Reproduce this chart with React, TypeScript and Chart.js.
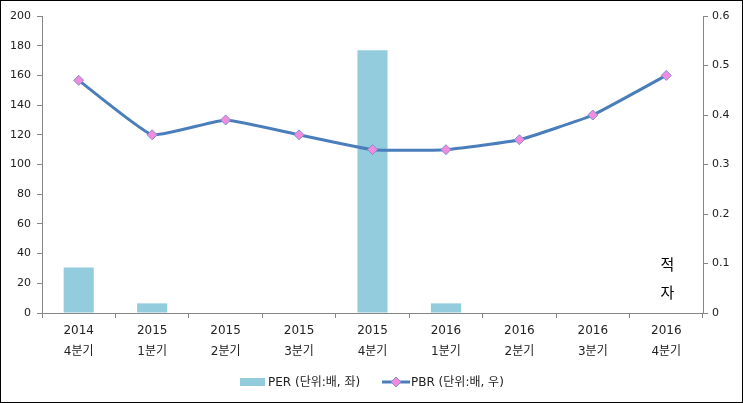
import React, { useEffect, useRef } from 'react';
import { Chart, registerables } from 'chart.js';
Chart.register(...registerables);

const years = ['2014', '2015', '2015', '2015', '2015', '2016', '2016', '2016', '2016'];
const quarters = ['4분기', '1분기', '2분기', '3분기', '4분기', '1분기', '2분기', '3분기', '4분기'];
const perValues: (number | null)[] = [30.7, 6.5, null, null, 177, 6.5, null, null, null];
const pbrValues = [0.47, 0.36, 0.39, 0.36, 0.33, 0.33, 0.35, 0.4, 0.48];
const perLabel = 'PER (단위:배, 좌)';
const pbrLabel = 'PBR (단위:배, 우)';
const noteChars = ['적', '자'];

const FONT = "'DejaVu Sans', 'Noto Sans CJK KR', sans-serif";
const BAR = '#93CDDD';
const LINE = '#4A7EBB';
const MARK = '#F28BE0';
const AXIS = '#868686';

export default function App() {
  const ref = useRef<HTMLCanvasElement | null>(null);
  useEffect(() => {
    document.body.style.margin = '0';
    const canvas = ref.current!;
    const overlay = {
      id: 'overlay',
      afterDraw(chart: any) {
        const ctx = chart.ctx as CanvasRenderingContext2D;
        ctx.save();
        const xs = chart.scales.x;
        const ys = chart.scales.y;
        const cx = xs.getPixelForValue(8);
        ctx.fillStyle = '#000';
        ctx.font = `15px ${FONT}`;
        ctx.textAlign = 'center';
        ctx.textBaseline = 'middle';
        ctx.fillText(noteChars[0], cx + 1, ys.getPixelForValue(31.5));
        ctx.fillText(noteChars[1], cx + 1, ys.getPixelForValue(13));
        // legend
        const ly = 382;
        ctx.fillStyle = BAR;
        ctx.fillRect(240, ly - 4, 25, 8);
        ctx.font = `12px ${FONT}`;
        ctx.textAlign = 'left';
        ctx.fillStyle = '#222';
        ctx.fillText(perLabel, 268, ly + 1);
        ctx.strokeStyle = LINE;
        ctx.lineWidth = 3;
        ctx.beginPath();
        ctx.moveTo(382, ly);
        ctx.lineTo(410, ly);
        ctx.stroke();
        ctx.fillStyle = MARK;
        ctx.strokeStyle = '#7F8FD0';
        ctx.lineWidth = 1;
        ctx.beginPath();
        ctx.moveTo(396, ly - 5);
        ctx.lineTo(401, ly);
        ctx.lineTo(396, ly + 5);
        ctx.lineTo(391, ly);
        ctx.closePath();
        ctx.fill();
        ctx.stroke();
        ctx.fillStyle = '#222';
        ctx.fillText(pbrLabel, 411, ly + 1);
        // border
        ctx.strokeStyle = '#000';
        ctx.lineWidth = 1;
        ctx.strokeRect(0.5, 0.5, chart.width - 1, chart.height - 1);
        ctx.restore();
      },
    };
    const chart = new Chart(canvas, {
      type: 'bar',
      data: {
        labels: years.map((y, i) => [y, quarters[i]]),
        datasets: [
          {
            type: 'line',
            label: pbrLabel,
            data: pbrValues,
            yAxisID: 'y1',
            borderColor: LINE,
            borderWidth: 3,
            backgroundColor: MARK,
            pointStyle: 'rectRot',
            pointRadius: 5,
            pointBorderColor: '#7F8FD0',
            pointBorderWidth: 1,
            tension: 0.12,
            order: 0,
          } as any,
          {
            type: 'bar',
            label: perLabel,
            data: perValues,
            yAxisID: 'y',
            backgroundColor: BAR,
            barPercentage: 0.41,
            categoryPercentage: 1,
            order: 1,
          },
        ],
      },
      options: {
        animation: false,
        responsive: false,
        layout: { padding: { top: 16, left: 0, right: 0, bottom: 0 } },
        plugins: { legend: { display: false }, tooltip: { enabled: false } },
        scales: {
          x: {
            offset: true,
            grid: { offset: true, drawOnChartArea: false, drawTicks: true, tickLength: 5, color: AXIS },
            border: { color: AXIS },
            ticks: { color: '#222', font: { family: FONT, size: 12, lineHeight: 1.75 }, padding: 2, maxRotation: 0 },
            afterFit: (s: any) => { s.height = 90; },
          },
          y: {
            position: 'left',
            min: 0,
            max: 200,
            ticks: { stepSize: 20, color: '#222', font: { family: FONT, size: 11 }, padding: 6 },
            grid: { drawOnChartArea: false, drawTicks: true, tickLength: 5, color: AXIS },
            border: { color: AXIS },
            afterFit: (s: any) => { s.width = 42; },
          },
          y1: {
            position: 'right',
            min: 0,
            max: 0.6,
            ticks: {
              stepSize: 0.1,
              color: '#222',
              font: { family: FONT, size: 11 },
              padding: 4,
              callback: (v: any) => String(Number(Number(v).toFixed(1))),
            },
            grid: { drawOnChartArea: false, drawTicks: true, tickLength: 5, color: AXIS },
            border: { color: AXIS },
            afterFit: (s: any) => { s.width = 40; },
          },
        },
      },
      plugins: [overlay],
    });
    return () => chart.destroy();
  }, []);
  return (
    <div style={{ width: 743, height: 403, background: '#fff' }}>
      <canvas ref={ref} width={743} height={403} style={{ display: 'block' }} />
    </div>
  );
}
